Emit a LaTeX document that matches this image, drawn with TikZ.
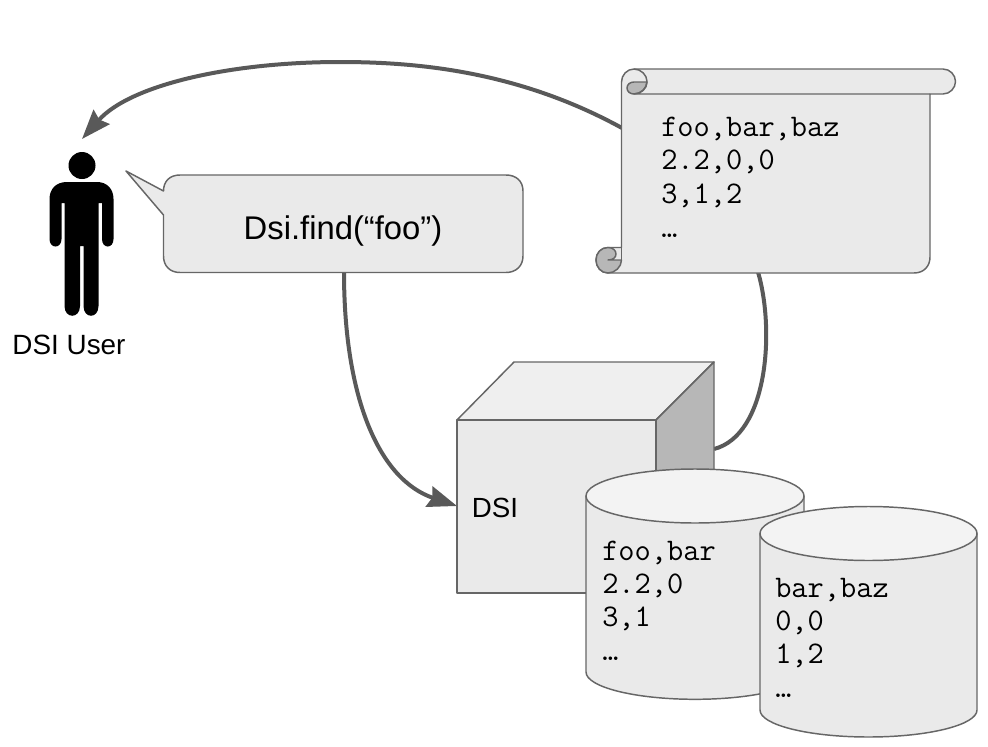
\documentclass[tikz,border=0pt]{standalone}
\usepackage{fontspec}
\setmainfont{Liberation Sans}
\usetikzlibrary{arrows.meta}
\definecolor{edgegray}{HTML}{666666}
\definecolor{linkgray}{HTML}{595959}
\definecolor{lightfill}{HTML}{EAEAEA}
\definecolor{topfill}{HTML}{EFEFEF}
\definecolor{capfill}{HTML}{F3F3F3}
\definecolor{darkfill}{HTML}{B7B7B7}
\tikzset{
  x=0.75pt,y=-0.75pt,
  outline/.style={draw=edgegray,line width=1.1pt,line join=round},
  link/.style={draw=linkgray,line width=3pt},
  linkhead/.style={-{Stealth[length=22pt,width=16pt,inset=2.5pt,fill=linkgray]}},
  csv/.style={font=\ttfamily\fontsize{23.6pt}{28pt}\selectfont,anchor=base west,inner sep=0pt,text=black},
  lab/.style={inner sep=0pt,text=black},
  figure/.style={fill=black,draw=none}
}
\begin{document}
\begin{tikzpicture}
\useasboundingbox (0,0) rectangle (988,746);
% anchors for connectors
\coordinate (scrollL) at (622,128);
\coordinate (scrollB) at (758,272);
\coordinate (userTop) at (82,139);
\coordinate (bubbleB) at (344,272);
\coordinate (cubeL) at (457,506);
\coordinate (cubeR) at (714,449);
% connectors
\draw[link,linkhead] (scrollL) .. controls (520,72) and (420,62) .. (340,62) .. controls (230,62) and (130,85) .. (userTop);
\draw[link,linkhead] (bubbleB) .. controls (344,400) and (380,480) .. (cubeL);
\draw[link] (scrollB) .. controls (775,330) and (768,435) .. (cubeR);
% figure
\fill[figure] (82,165.5) circle (13.5);
\fill[figure] (67,182) -- (97,182) .. controls (107,182) and (113.5,189) .. (113.5,199) -- (113.5,239) .. controls (113.5,249) and (102,249) .. (102,239) -- (102,203) -- (98.5,203) -- (98.5,306) .. controls (98.5,319) and (83.5,319) .. (83.5,306) -- (83.5,246) -- (80,246) -- (80,306) .. controls (80,319) and (64.5,319) .. (64.5,306) -- (64.5,203) -- (61.5,203) -- (61.5,239) .. controls (61.5,249) and (49.5,249) .. (49.5,239) -- (49.5,199) .. controls (49.5,189) and (56,182) .. (67,182) -- cycle;
\node[lab,font=\fontsize{20.9pt}{25pt}\selectfont] (user) at (69,345) {DSI User};
% bubble
\draw[outline,fill=lightfill] (126,171) -- (163.5,191) .. controls (163.5,181) and (170,175) .. (180,175) -- (506,175) .. controls (516,175) and (523,181) .. (523,191) -- (523,256) .. controls (523,266) and (516,272.5) .. (506,272.5) -- (180,272.5) .. controls (170,272.5) and (163.5,266) .. (163.5,256) -- (163.5,215) -- cycle;
\node[lab,font=\fontsize{24.6pt}{29pt}\selectfont] (query) at (343,231) {Dsi.find(“foo”)};
% scroll
\draw[outline,fill=lightfill] (621.5,82) -- (621.5,247.5) -- (608,247.5) .. controls (601,247.5) and (596,253) .. (596,260) .. controls (596,267) and (601,273) .. (608,273) -- (914,273) .. controls (924,273) and (930,266) .. (930,257) -- (930,94) -- (943,94) .. controls (950,94) and (955.5,88) .. (955.5,81.5) .. controls (955.5,75) and (950,69) .. (943,69) -- (634,69) .. controls (627,69) and (621.5,75) .. (621.5,82) -- cycle;
\draw[outline,fill=darkfill] (627,88) .. controls (627,84.5) and (630,82) .. (634,82) -- (647,82) .. controls (647,88.5) and (641,94) .. (634,94) .. controls (630,94) and (627,91.5) .. (627,88) -- cycle;
\draw[outline] (634,69) .. controls (641,69) and (647,75) .. (647,81.5) .. controls (647,88) and (641,94) .. (634,94) -- (930,94);
\draw[outline,fill=darkfill] (608,273) .. controls (601,273) and (596,267) .. (596,260) .. controls (596,253) and (601,247.5) .. (608,247.5) .. controls (613,247.5) and (616,250.5) .. (616,254) .. controls (616,257.5) and (613,260) .. (608,260) -- (621.5,260) .. controls (621.5,267) and (615,273) .. (608,273) -- cycle;
\draw[outline] (621.5,247.5) -- (621.5,260);
\node[csv] (s1) at (661,136) {foo,bar,baz};
\node[csv] (s2) at (661,169.5) {2.2,0,0};
\node[csv] (s3) at (661,203) {3,1,2};
\node[csv] (s4) at (661,237) {…};
% cube
\draw[outline,fill=topfill] (457,420) -- (514,362) -- (714,362) -- (656,420) -- cycle;
\draw[outline,fill=darkfill] (656,420) -- (714,362) -- (714,535) -- (656,593) -- cycle;
\draw[outline,fill=lightfill] (457,420) rectangle (656,593);
\node[lab,font=\fontsize{20.8pt}{25pt}\selectfont,anchor=base west] (dsi) at (471.5,517) {DSI};
% cylinder 1
\draw[outline,fill=lightfill] (586,496) -- (586,672) .. controls (586,687) and (635,699.3) .. (695,699.3) .. controls (755,699.3) and (804,687) .. (804,672) -- (804,496) -- cycle;
\draw[outline,fill=capfill] (695,496) ellipse [x radius=109,y radius=27];
\node[csv] (a1) at (602,560.5) {foo,bar};
\node[csv] (a2) at (602,593) {2.2,0};
\node[csv] (a3) at (602,626) {3,1};
\node[csv] (a4) at (602,660) {…};
% cylinder 2
\draw[outline,fill=lightfill] (760,533.5) -- (760,710) .. controls (760,725) and (809,737) .. (868.5,737) .. controls (928,737) and (977,725) .. (977,710) -- (977,533.5) -- cycle;
\draw[outline,fill=capfill] (868.5,533.5) ellipse [x radius=108.5,y radius=27];
\node[csv] (b1) at (775,597) {bar,baz};
\node[csv] (b2) at (775,630) {0,0};
\node[csv] (b3) at (775,663) {1,2};
\node[csv] (b4) at (775,697) {…};
\end{tikzpicture}
\end{document}
